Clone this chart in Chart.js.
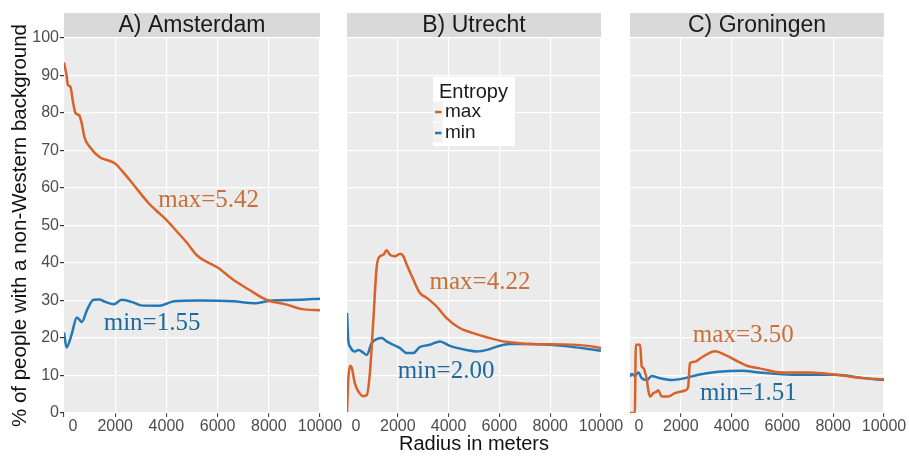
<!DOCTYPE html>
<html>
<head>
<meta charset="utf-8">
<script src="https://cdn.jsdelivr.net/npm/chart.js@4.4.1/dist/chart.umd.min.js"></script>
<style>
  body { margin: 0; background: #fff; }
  canvas { position: absolute; top: 0; }
</style>
</head>
<body>
<canvas id="chartA" width="347" height="456" style="left:0"></canvas>
<canvas id="chartB" width="283" height="456" style="left:347px"></canvas>
<canvas id="chartC" width="279" height="456" style="left:630px"></canvas>
<script>
// labels
const panelTitles = ['A) Amsterdam', 'B) Utrecht', 'C) Groningen'];
const seriesNames = ['max', 'min'];
const legendTitle = 'Entropy';
const xTitle = 'Radius in meters';
const yTitle = '% of people with a non-Western background';
const xTicks = [0, 2000, 4000, 6000, 8000, 10000];
const yTicks = [0, 10, 20, 30, 40, 50, 60, 70, 80, 90, 100];

// [radius in meters, % non-Western]
const amsterdamMax = [[0, 93.5], [100, 90], [150, 87.5], [250, 87], [350, 83], [450, 80], [600, 79.3], [700, 77],
  [800, 73.5], [1000, 71], [1400, 68.2], [1800, 67.2], [2000, 66.5], [2400, 63.5], [2700, 61], [3300, 56],
  [3600, 54], [4000, 51.5], [4200, 50], [4800, 45.4], [5200, 42], [5500, 40.6], [6000, 38.8], [6600, 35.6],
  [7200, 33], [7900, 30.2], [8700, 28.9], [9300, 27.7], [10000, 27.4]];
const amsterdamMin = [[0, 21.5], [100, 17.5], [300, 21], [500, 25.5], [700, 24.3], [900, 27.5], [1150, 30.2],
  [1400, 30.3], [1550, 29.8], [1950, 29], [2250, 30.2], [2700, 29.5], [3000, 28.7], [3750, 28.6], [4300, 29.8],
  [5300, 30], [6600, 29.8], [7500, 29.3], [8100, 30], [9250, 30.2], [10000, 30.5]];

const utrechtMax = [[0, 0.3], [50, 8.8], [120, 12.6], [190, 12], [310, 7.9], [450, 5.7], [640, 4.5], [780, 4.8],
  [900, 10.6], [1030, 24], [1170, 39], [1300, 41.8], [1430, 42.2], [1560, 43.4], [1690, 42.2], [1890, 41.8],
  [2090, 42.5], [2220, 41.8], [2350, 39.6], [2610, 35.6], [2870, 32], [3140, 30.7], [3530, 28.4], [3920, 25.3],
  [4450, 22.6], [4970, 21.3], [5500, 20.2], [6150, 19.1], [6400, 18.9], [7200, 18.4], [8500, 18.3],
  [9500, 17.9], [10000, 17.3]];
const utrechtMin = [[0, 26.7], [50, 19.5], [120, 17.7], [310, 16.4], [450, 16.8], [640, 16.1], [780, 15.5],
  [970, 18.6], [1170, 19.7], [1370, 20], [1560, 19.1], [1820, 18.2], [2090, 17.3], [2350, 16], [2610, 16],
  [2870, 17.6], [3270, 18.2], [3660, 19.1], [4050, 17.9], [4700, 16.8], [5100, 16.4], [5600, 17], [5900, 17.7],
  [6400, 18.4], [7200, 18.4], [8500, 17.9], [10000, 16.6]];

const groningenMax = [[0, 0], [190, 0], [230, 18.2], [400, 18.2], [460, 12.4], [530, 12], [600, 10.6], [660, 9],
  [720, 6.1], [790, 4.4], [920, 5.3], [1050, 5.7], [1110, 6.1], [1250, 4.4], [1500, 4.4], [1770, 5.3],
  [2170, 6], [2290, 7], [2360, 13.3], [2560, 13.7], [2820, 14.8], [3350, 16.5], [3740, 15.5], [4260, 13.7],
  [4600, 12.6], [5100, 11.9], [6000, 10.8], [7100, 10.8], [8100, 10.2], [9200, 9.3], [10000, 9.0]];
const groningenMin = [[0, 9.7], [70, 10.4], [200, 9.9], [330, 10.8], [460, 9.3], [660, 8.8], [850, 9.9],
  [1110, 9.4], [1640, 8.8], [2170, 9.3], [2690, 10.2], [3480, 11], [4400, 11.3], [5100, 10.8], [6400, 10.2],
  [8100, 10.2], [9200, 9.3], [10000, 8.8]];

// [text, radius, %] for the entropy labels
const amsterdamNotes = [['max=5.42', 5650, 56.7], ['min=1.55', 3440, 23.8]];
const utrechtNotes = [['max=4.22', 5236, 34.9], ['min=2.00', 3898, 11.0]];
const groningenNotes = [['max=3.50', 4461, 20.7], ['min=1.51', 4657, 5.3]];

const lineColors = ['#D9622B', '#2478B5'];
const noteColors = ['#C96F38', '#1B6A9B'];

Chart.defaults.font.family = '"Liberation Sans", Arial, sans-serif';

// grey panel + strip behind the title
const panelBackground = {
  id: 'panelBackground',
  beforeDraw(chart) {
    const { ctx, chartArea: a } = chart;
    ctx.save();
    ctx.fillStyle = '#ebebeb';
    ctx.fillRect(a.left, a.top, a.right - a.left, a.bottom - a.top);
    const t = chart.titleBlock;
    if (t) {
      ctx.fillStyle = '#d9d9d9';
      ctx.fillRect(a.left, t.top, a.right - a.left, t.bottom - t.top);
    }
    ctx.restore();
  }
};

const textNotes = {
  id: 'textNotes',
  afterDatasetsDraw(chart, args, opts) {
    const { ctx, scales: { x, y } } = chart;
    ctx.save();
    ctx.font = '25px "Liberation Serif", "Times New Roman", serif';
    ctx.textAlign = 'center';
    ctx.textBaseline = 'middle';
    (opts.notes || []).forEach((n, i) => {
      ctx.fillStyle = noteColors[i];
      ctx.fillText(n[0], x.getPixelForValue(n[1]), y.getPixelForValue(n[2]));
    });
    ctx.restore();
  }
};

const entropyLegend = {
  id: 'entropyLegend',
  afterDraw(chart, args, opts) {
    if (!opts.show) return;
    const { ctx, chartArea: a } = chart;
    const left = a.left + 86, top = a.top + 39;
    ctx.save();
    ctx.fillStyle = '#ffffff';
    ctx.fillRect(left, top, 82, 69);
    ctx.textAlign = 'left';
    ctx.textBaseline = 'middle';
    ctx.fillStyle = '#1a1a1a';
    ctx.font = '20px "Liberation Sans", Arial, sans-serif';
    ctx.fillText(legendTitle, left + 6, top + 15);
    chart.data.datasets.forEach((ds, i) => {
      const cy = top + 34.5 + i * 21;
      ctx.fillStyle = '#f2f2f2';
      ctx.fillRect(left, cy - 10, 10, 20);
      ctx.strokeStyle = ds.borderColor;
      ctx.lineWidth = 2.5;
      ctx.beginPath();
      ctx.moveTo(left + 2, cy + 0.5);
      ctx.lineTo(left + 8.5, cy + 0.5);
      ctx.stroke();
      ctx.fillStyle = '#1a1a1a';
      ctx.font = '19px "Liberation Sans", Arial, sans-serif';
      ctx.fillText(ds.label, left + 12, cy);
    });
    ctx.restore();
  }
};

function toPoints(pairs) {
  return pairs.map(p => ({ x: p[0], y: p[1] }));
}

function makePanel(id, idx, maxData, minData, notes, padRight) {
  const first = idx === 0;
  const middle = idx === 1;
  return new Chart(document.getElementById(id), {
    type: 'line',
    data: {
      datasets: [maxData, minData].map((d, i) => ({
        label: seriesNames[i],
        data: toPoints(d),
        borderColor: lineColors[i],
        borderWidth: 2.5,
        pointRadius: 0,
        fill: false,
        cubicInterpolationMode: 'monotone'
      }))
    },
    options: {
      responsive: false,
      animation: false,
      layout: { padding: { top: 13, left: 0, right: padRight, bottom: 0 } },
      scales: {
        x: {
          type: 'linear',
          min: 0,
          max: 10000,
          afterBuildTicks: s => { s.ticks = xTicks.map(v => ({ value: v })); },
          afterFit: s => { s.height = 43; s.paddingLeft = 0; s.paddingRight = 0; },
          ticks: {
            color: '#4d4d4d',
            font: { size: 16 },
            padding: 0,
            maxRotation: 0,
            autoSkip: false,
            callback: v => v === 0 ? '    0' : String(v)
          },
          grid: { color: '#ffffff', lineWidth: 1.2, tickColor: '#333333', tickLength: 4, tickWidth: 1 },
          border: { display: false },
          title: {
            display: middle,
            text: xTitle,
            color: '#111111',
            font: { size: 20 },
            padding: { top: 0, bottom: 0 }
          }
        },
        y: {
          min: 0,
          max: 100,
          afterBuildTicks: s => { s.ticks = yTicks.map(v => ({ value: v })); },
          afterFit: s => { s.width = first ? 64 : 0; s.paddingTop = 0; s.paddingBottom = 0; },
          ticks: { display: first, color: '#4d4d4d', font: { size: 16 }, padding: 1 },
          grid: { color: '#ffffff', lineWidth: 1.2, tickColor: '#333333', tickLength: 4, drawTicks: first },
          border: { display: false },
          title: {
            display: first,
            text: yTitle,
            color: '#111111',
            font: { size: 20.5 },
            padding: { top: 8, bottom: 0 }
          }
        }
      },
      plugins: {
        legend: { display: false },
        tooltip: { enabled: false },
        title: {
          display: true,
          text: panelTitles[idx],
          fullSize: false,
          color: '#1a1a1a',
          font: { size: 23, weight: 'normal', lineHeight: '24px' },
          padding: { top: 1, bottom: 0 }
        },
        textNotes: { notes: notes },
        entropyLegend: { show: middle }
      }
    },
    plugins: [panelBackground, textNotes, entropyLegend]
  });
}

makePanel('chartA', 0, amsterdamMax, amsterdamMin, amsterdamNotes, 27);
makePanel('chartB', 1, utrechtMax, utrechtMin, utrechtNotes, 29);
makePanel('chartC', 2, groningenMax, groningenMin, groningenNotes, 25);
</script>
</body>
</html>
